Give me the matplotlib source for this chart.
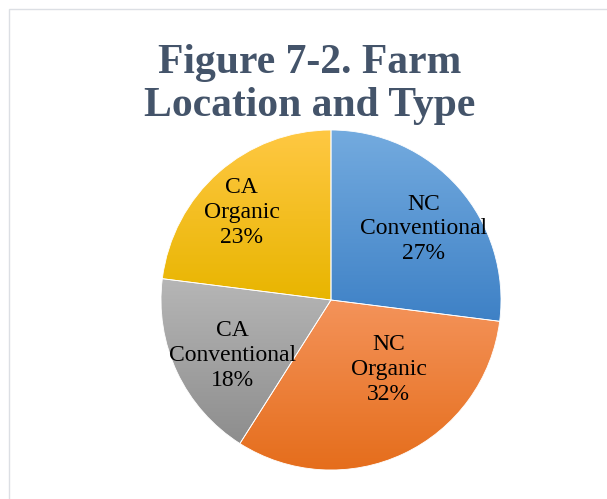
import numpy as np
import matplotlib
matplotlib.use("Agg")
import matplotlib.pyplot as plt
from matplotlib.colors import LinearSegmentedColormap
from matplotlib.patches import Rectangle

# ---- data ----
categories = ["NC\nConventional", "NC\nOrganic", "CA\nConventional", "CA\nOrganic"]
shares = [27, 32, 18, 23]
title = "Figure 7-2. Farm\nLocation and Type"

# ---- styling ----
top_colors = ["#74ABDF", "#F4935A", "#B6B6B6", "#FFC843"]
bottom_colors = ["#3E81C6", "#E56D1B", "#8D8D8D", "#E8B500"]
label_pos = [(0.547, 0.418), (0.338, -0.409), (-0.579, -0.326), (-0.526, 0.515)]

W, H = 607, 499
fig = plt.figure(figsize=(W / 100, H / 100), dpi=100)
fig.patch.set_facecolor("white")

# chart border (partially cropped in reference)
fig.patches.append(Rectangle((8.5 / W, -0.1), 1.2, 1 - 9 / H + 0.1,
                             transform=fig.transFigure, fill=False,
                             edgecolor="#DCDFE4", linewidth=1.0))

R = 170
cx, cy = 331, 300
ax = fig.add_axes([(cx - R) / W, (H - cy - R) / H, 2 * R / W, 2 * R / H])
ax.set_axis_off()

wedges, _ = ax.pie(shares, startangle=90, counterclock=False, radius=1,
                   wedgeprops=dict(edgecolor="white", linewidth=0.6))

for w, ctop, cbot in zip(wedges, top_colors, bottom_colors):
    verts = w.get_path().vertices
    x0, x1 = verts[:, 0].min(), verts[:, 0].max()
    y0, y1 = verts[:, 1].min(), verts[:, 1].max()
    cmap = LinearSegmentedColormap.from_list("g", [cbot, ctop])
    grad = np.linspace(0, 1, 256).reshape(-1, 1)
    im = ax.imshow(grad, cmap=cmap, origin="lower", aspect="auto",
                   extent=(x0, x1, y0, y1), zorder=w.get_zorder() - 0.01)
    im.set_clip_path(w)
    w.set_facecolor("none")

ax.set_xlim(-1, 1)
ax.set_ylim(-1, 1)
ax.set_aspect("equal")

for lab, v, (lx, ly) in zip(categories, shares, label_pos):
    ax.text(lx, ly, f"{lab}\n{v}%", ha="center", va="center",
            fontsize=17, family="Liberation Serif", color="black",
            linespacing=1.23, zorder=5)

fig.text(310 / W, 1 - 116 / H, title, ha="center", va="baseline",
         fontsize=30, fontweight="bold", family="Liberation Serif",
         color="#44546A", linespacing=1.17)

fig.savefig("out.png", dpi=100, facecolor="white")
